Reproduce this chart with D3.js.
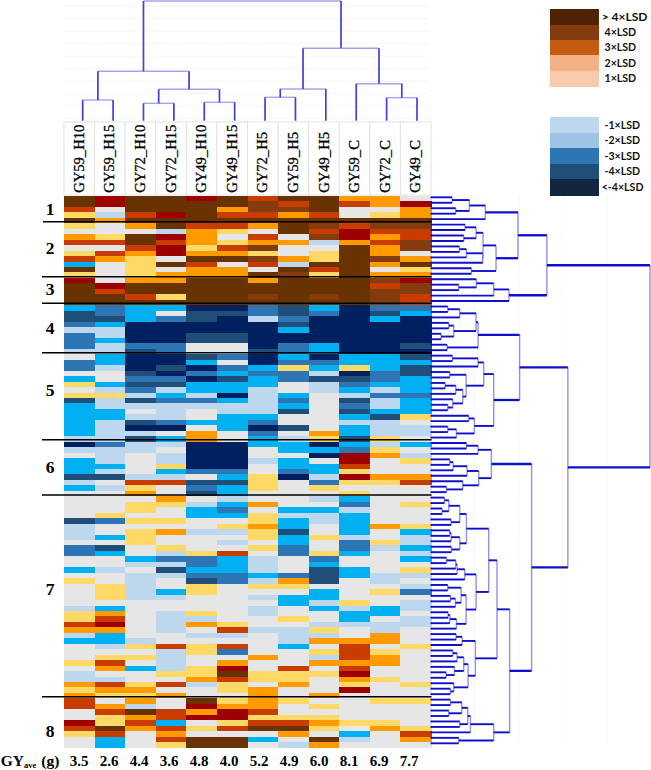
<!DOCTYPE html>
<html>
<head>
<meta charset="utf-8">
<script src="https://cdn.jsdelivr.net/npm/d3@7"></script>
<style>
html,body{margin:0;padding:0;background:#fff}
svg{display:block}
</style>
</head>
<body>
<svg id="chart" width="651" height="770"></svg>
<script>
// ---------- DATA ----------
const columns = ["GY59_H10","GY59_H15","GY72_H10","GY72_H15","GY49_H10","GY49_H15","GY72_H5","GY59_H5","GY49_H5","GY59_C","GY72_C","GY49_C"];
const gyAve = ["3.5","2.6","4.4","3.6","4.8","4.0","5.2","4.9","6.0","8.1","6.9","7.7"];
const clusterNames = ["1","2","3","4","5","6","7","8"];
const clusterLabelRows = [2.3,9.6,17,24.1,35.6,49.6,72,97.9];
const clusterBreaks = [4.7,14.8,19.65,28.7,44.65,54.75,91.7];

// one level letter per row, top to bottom, spaces only separate the eight clusters' blocks
const levelCodes = ["T","U","R","O","A","Y","G","L","C","M","S","N"];
const levelColors = ["#683300","#843c0c","#9c0000","#c83c00","#ff9a00","#ffd966","#e6e6e6","#bdd7ee","#00b0f0","#2e75b6","#1f4e79","#002060"];
const col01 = "TTOYT YGAOGYOCTY RTTTT CSSMLMMML GMMGCYGYSCCCCCCL NLGCCCSLCG GGGGSLLLGMMGGCGYGGGGLYY OALCGGGYGLLAYAOOGGROYGG";
const col02 = "RRGLA GGYOGOAGGG GROTT MMSCLLCLL CCLGGCLYLLCCLLLL MLLLCLSGLG GGGYMGGCGSCGGLGGYYYGCAO RACCLGYOAGLOAYGAOYYTOCC";
const col03 = "TTTOT AGTTOAYYYY ATTOT CCCNNNNMS NNNSMSMLSLGLSNLS LLGGGGLOYA GYYGYGYYYGGCLGLLLLLGGGG GGGLYGYGCGGYAYALTAOAGGG";
const col04 = "TTTRT TLRORRGTGA ATTYT CGMNNNNMM NNSNMSLCMLLLMNGC LGLLYCLOGG AYGGYGAGGYLMLSLGGCLGGLL LLGGOLLLLYGOGAGGOOCOAOY";
const col05 = "RTTTT OAAAYATOAA TTTTT NSSNNSSGG SCNMNCCLMLGGCGAA NNNNNMGSMS GLCCGGLGGGYMMCMSYYGGGYL AGLGYYGGYYALGGTRARGYGTT";
const col06 = "TTAOT OYGYOATGAA TTTTT NSNNNSSGG MGMCSCCNCLLCCCGG NNNNNMCSCC LCMCGYLGLGOCCCMMGGGGGGG YOLGOMGARTOYYGYARRYOGTT";
const col07 = "OUUOT AGOAUYUOGT ATTUT MMLNNNNNS NNCMCCLLLLLCMNMC CGGLGGYYYG GAGYYAYYGYGLLLCLYGLGLLG GLGGGGAGGYYGAAAAOYOTGCG";
const col08 = "TOUAT TTGAGGALTU TTTTT SSMSCNNMM CMYMMGGCMCSGGSGL CCGCCMNGGG GGCLCCSCCMMGGGMAYGCCGGY GLLLCGGGOYYAGGYGGYOTAGL";
const col09 = "TTTOT UOULGYYTOY TTTUT CMNNNNNCC NMCLSLLGGGGGGGAY NCNGCCLMYG LGCLLGGYGGYMCSSSGCCLCGG LYLAGYLAGYGGGAGYGYAYGTA";
const col10 = "AOGGT ORRATTTTTT TTTTT NNNNNNNNN CCYNSMCLSMSCLCCS CMRROYRYGY CMLCCCCLMMCGGCCGGGGYLCC LGGAOOOAORAYRGGGGGYGCLG";
const col11 = "AAGYT UOAOAAUAGA UOUUU MSCNNNNNN CCCMMCLMLLCSLLLY LYAGGGAYGG GGGGGAGGYLGGGGLLGYGGCCG LLAAGYAAGGYGGGYGGGYAGGG";
const col12 = "GRAAT UOOUUGATYA RUUOO MCNNNNNSN SCSSCCCMCCCYGLLG CGLYGGAOGG GYGGGYCLLCLCGYLGLMGLLGL LGGGYGGGGGGYGGYGGGGYOAG";
const columnLevels = [col01,col02,col03,col04,col05,col06,col07,col08,col09,col10,col11,col12].map(s => s.replace(/ /g,""));
const rowIds = d3.range(columnLevels[0].length);

// dendrograms: [mergeHeight, left, right], integer = leaf index
const columnTree = [119.7,
  [49.4, [20.7,0,1], [31.4, [17.4,2,3], [18.4,4,5]]],
  [72.4, [31.7, [23.4,6,7], 8], [37, 9, [23,10,11]]]
];
const rowTreeA = [263, [165,[117,[65,0,1],[76,2,3]],4],
  [197,[158,[137,[104,5,6],[100,7,8]],[157,[108,[87,9,10],11],12]],[123,13,14]]];
const rowTreeB = [236,[190,[138,15,[85,16,17]],18],19];
const rowTreeC = [143,[137,[88,[52,20,21],22],[70,[55,23,24],[32,25,26]]],[50,27,28]];
const rowTreeD = [190,
  [160,[143,[66,29,30],31],[107,[58,32,33],[97,[76,[44,34,35],36],[67,37,[52,38,39]]]]],
  [132,[115,40,41],[78,[52,42,43],44]]];
const rowTreeE = [183,[143,[108,45,46],47],[145,[110,[68,[58,48,49],50],51],[97,52,[48,53,54]]]];
const rowTreeF = [175,
  [108,[88,[55,[42,55,56],[35,57,58]],[62,59,60]],[88,[62,[58,61,62],63],[63,64,65]]],
  [137,[103,[80,[76,[48,66,67],68],69],70],[107,[92,[52,71,72],[75,[60,73,74],75]],[78,[58,[53,76,77],78],79]]]];
const rowTreeG = [135,[95,[77,80,81],82],[113,[100,[80,[67,83,84],85],[72,86,[47,87,88]]],[70,89,[60,90,91]]]];
const rowTreeH = [190,[120,[112,[94,[60,92,93],[55,94,95]],[88,96,97]],98],[85,99,100]];
const rowTree = [660,
  [350,rowTreeA,rowTreeB],
  [413,[268,rowTreeC,rowTreeD],[304,rowTreeE,[238,[200,rowTreeF,rowTreeG],rowTreeH]]]
];

// legends
const upLabels = ["> 4×LSD","4×LSD","3×LSD","2×LSD","1×LSD"];
const upColors = ["#4f2405","#843c0c","#c55a11","#f4b183","#f8cbad"];
const downLabels = ["-1×LSD","-2×LSD","-3×LSD","-4×LSD","<-4×LSD"];
const downColors = ["#bdd7ee","#9dc3e6","#2e75b6","#1f4e79","#12263f"];

// ---------- SCALES ----------
const svg = d3.select("#chart");
const SERIF = "'Liberation Serif','Times New Roman',serif";
const x = d3.scaleBand().domain(d3.range(columns.length)).range([64,431]);
const y = d3.scaleBand().domain(rowIds).range([196,747.5]);
const color = d3.scaleOrdinal().domain(levelCodes).range(levelColors);
const rowAt = d3.scaleLinear().domain([0,rowIds.length]).range([196,747.5]);
const colLeaf = d3.scalePoint().domain(d3.range(columns.length)).range([82.7,417]);
const colHeight = d3.scaleLinear().domain([0,120]).range([120.7,0.7]);
const rowLeaf = d3.scaleLinear().domain([0,rowIds.length-1]).range([197.3,743.3]);
const rowHeight = d3.scaleLinear().domain([0,660]).range([430.5,650]);
const gyX = d3.scalePoint().domain(gyAve.map((d,i)=>i)).range([79,409]);

// ---------- FAINT DENDROGRAM GRIDS ----------
svg.append("g").selectAll("line").data(d3.range(2,120,12.5)).join("line")
  .attr("x1",64).attr("x2",427)
  .attr("y1",d=>colHeight(d)).attr("y2",d=>colHeight(d))
  .attr("stroke","#ececf2").attr("stroke-width",0.8).attr("stroke-dasharray","1.5 1");
svg.append("g").selectAll("line").data([130,265,397,530]).join("line")
  .attr("x1",d=>rowHeight(d)).attr("x2",d=>rowHeight(d))
  .attr("y1",196).attr("y2",746)
  .attr("stroke","#ececf2").attr("stroke-width",0.8).attr("stroke-dasharray","1.5 1");

// ---------- HEATMAP ----------
const cells = columnLevels.flatMap((s,c)=>Array.from(s,(code,r)=>({c,r,code})));
svg.append("g").attr("shape-rendering","crispEdges").selectAll("rect").data(cells).join("rect")
  .attr("x",d=>x(d.c)).attr("y",d=>y(d.r))
  .attr("width",x.bandwidth()+0.5).attr("height",y.bandwidth()+0.5)
  .attr("fill",d=>color(d.code));

// ---------- COLUMN LABEL CELLS ----------
const lab = svg.append("g").selectAll("g").data(columns).join("g");
lab.append("rect")
  .attr("x",(d,i)=>x(i)).attr("y",122)
  .attr("width",x.bandwidth()).attr("height",73)
  .attr("fill","#fff").attr("stroke","#e2e2e2").attr("stroke-width",1);
lab.append("text")
  .attr("transform",(d,i)=>`translate(${x(i)+x.bandwidth()/2+4.6},192.8) rotate(-90)`)
  .attr("font-family",SERIF).attr("font-size",14.6).attr("fill","#000")
  .attr("stroke","#000").attr("stroke-width",0.3)
  .text(d=>d);

// ---------- DENDROGRAMS ----------
function layout(node,leafPos,h,v){
  if(typeof node==="number") return {pos:leafPos(node),h:0};
  const a=layout(node[1],leafPos,h,v), b=layout(node[2],leafPos,h,v);
  h.push({from:a.h,to:node[0],at:a.pos},{from:b.h,to:node[0],at:b.pos});
  v.push({h:node[0],a:a.pos,b:b.pos});
  return {pos:(a.pos+b.pos)/2,h:node[0]};
}
// column tree: stems (vertical) strong, bars (horizontal) light
{
  const stems=[],bars=[];
  layout(columnTree,colLeaf,stems,bars);
  const g=svg.append("g");
  g.selectAll(".bar").data(bars).join("line").attr("class","bar")
    .attr("x1",d=>d.a).attr("x2",d=>d.b)
    .attr("y1",d=>colHeight(d.h)).attr("y2",d=>colHeight(d.h))
    .attr("stroke","#a4a4f2").attr("stroke-width",1.4);
  g.selectAll(".stem").data(stems).join("line").attr("class","stem")
    .attr("x1",d=>d.at).attr("x2",d=>d.at)
    .attr("y1",d=>colHeight(d.from)).attr("y2",d=>colHeight(d.to))
    .attr("stroke","#4040dc").attr("stroke-width",1.7);
}
// row tree: horizontals strong, verticals light
{
  const hs=[],vs=[];
  layout(rowTree,rowLeaf,hs,vs);
  const g=svg.append("g");
  g.selectAll(".v").data(vs).join("line").attr("class","v")
    .attr("x1",d=>rowHeight(d.h)).attr("x2",d=>rowHeight(d.h))
    .attr("y1",d=>d.a).attr("y2",d=>d.b)
    .attr("stroke","#9090ee").attr("stroke-width",1.4);
  g.selectAll(".h").data(hs).join("line").attr("class","h")
    .attr("x1",d=>rowHeight(d.from)).attr("x2",d=>rowHeight(d.to))
    .attr("y1",d=>d.at).attr("y2",d=>d.at)
    .attr("stroke","#1010cc").attr("stroke-width",d=>d.to>250?2.3:1.9);
}

// ---------- CLUSTER LINES AND NUMBERS ----------
svg.append("g").selectAll("line").data(clusterBreaks).join("line")
  .attr("x1",(d,i)=>i===0?43:42).attr("x2",431.5)
  .attr("y1",d=>rowAt(d)).attr("y2",d=>rowAt(d))
  .attr("stroke","#000").attr("stroke-width",1.5);
svg.append("g").selectAll("text").data(clusterNames).join("text")
  .attr("x",50).attr("y",(d,i)=>rowAt(clusterLabelRows[i]))
  .attr("dy","0.34em").attr("text-anchor","middle")
  .attr("font-family",SERIF).attr("font-weight","bold").attr("font-size",17.5)
  .text(d=>d);

// ---------- BOTTOM ROW ----------
const gyLab = svg.append("text").attr("x",0.7).attr("y",765.8)
  .attr("font-family",SERIF).attr("font-weight","bold").attr("font-size",15.5);
gyLab.append("tspan").text("GY");
gyLab.append("tspan").attr("font-size",8.5).attr("dy",2.6).text("ave");
gyLab.append("tspan").attr("dy",-2.6).attr("dx",5).text("(g)");
svg.append("g").selectAll("text").data(gyAve).join("text")
  .attr("x",(d,i)=>gyX(i)).attr("y",765.8).attr("text-anchor","middle")
  .attr("font-family",SERIF).attr("font-weight","bold").attr("font-size",15)
  .text(d=>d);

// ---------- LEGENDS ----------
function legend(labels,colors,top,bottom){
  const ly=d3.scaleBand().domain(labels).range([top,bottom]);
  const g=svg.append("g");
  g.append("g").attr("shape-rendering","crispEdges").selectAll("rect").data(labels).join("rect")
    .attr("x",549.5).attr("width",49.3)
    .attr("y",d=>ly(d)).attr("height",ly.bandwidth()+0.5)
    .attr("fill",(d,i)=>colors[i]);
  g.selectAll("text").data(labels).join("text")
    .attr("x",d=>/^[<>]/.test(d)?601.7:604.5)
    .attr("y",d=>ly(d)+ly.bandwidth()/2).attr("dy","0.35em")
    .attr("font-family","Lato,'Liberation Sans',sans-serif")
    .attr("font-weight","bold")
    .attr("font-size",d=>d[0]===">"?12:10.6)
    .attr("fill","#111")
    .text(d=>d);
}
legend(upLabels,upColors,9.3,86);
legend(downLabels,downColors,117,195);
</script>
</body>
</html>
